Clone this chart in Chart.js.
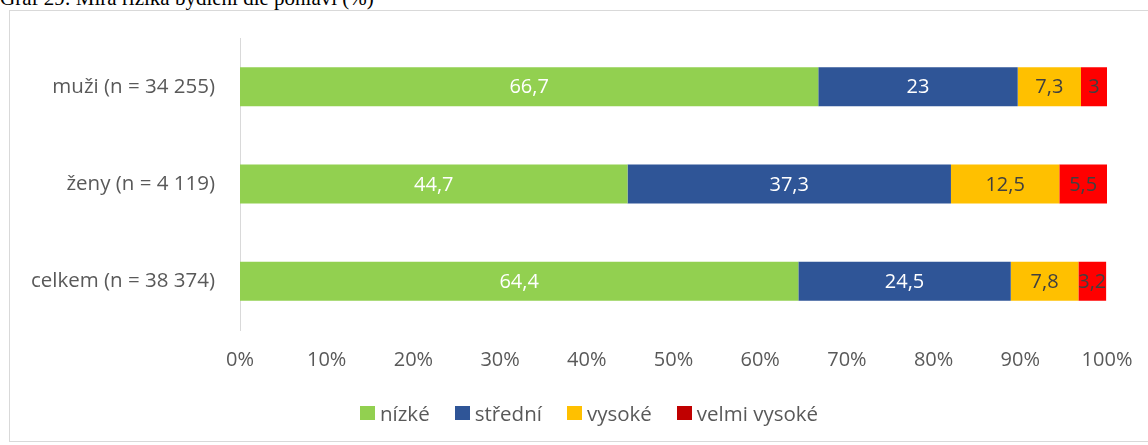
<!DOCTYPE html>
<html>
<head>
<meta charset="utf-8">
<script src="https://cdn.jsdelivr.net/npm/chart.js@4"></script>
<style>
  body { margin: 0; background: #fff; width: 1148px; height: 445px; overflow: hidden; position: relative; }
  .title { position: absolute; left: 0; top: -12px; font: 21px "Liberation Serif", serif; line-height: 21px; color: #000; white-space: nowrap; }
  .box { position: absolute; left: 9px; top: 10px; width: 1140px; height: 432px; border: 1px solid #d9d9d9; box-sizing: border-box; }
  canvas { position: absolute; left: 0; top: 0; }
  .legend { position: absolute; left: 360px; top: 401px; display: flex; align-items: center; font: 20.5px "Open Sans", sans-serif; color: #595959; line-height: 24px; white-space: nowrap; }
  .legend span.item { display: flex; align-items: center; margin-right: 25px; }
  .legend i { display: inline-block; width: 15px; height: 14px; margin-right: 5px; }
</style>
</head>
<body>
<div class="title">Graf 29: Míra rizika bydlení dle pohlaví (%)</div>
<div class="box"><canvas id="chart" width="1138" height="430"></canvas></div>
<div class="legend" id="legend"></div>
<script>
const categories = ['muži (n = 34 255)', 'ženy (n = 4 119)', 'celkem (n = 38 374)'];
const seriesNames = ['nízké', 'střední', 'vysoké', 'velmi vysoké'];
const nizke = [66.7, 44.7, 64.4];
const stredni = [23, 37.3, 24.5];
const vysoke = [7.3, 12.5, 7.8];
const velmiVysoke = [3, 5.5, 3.2];
const xTicks = [0, 10, 20, 30, 40, 50, 60, 70, 80, 90, 100];

const colors = ['#92D050', '#2F5597', '#FFC000', '#FF0000'];
const legendColors = ['#92D050', '#2F5597', '#FFC000', '#C00000'];
const labelColors = ['#ffffff', '#ffffff', '#404040', '#404040'];
const font = '"Open Sans", "Noto Sans", sans-serif';

// draws the value inside each segment
const barLabels = {
  id: 'barLabels',
  afterDatasetsDraw(chart) {
    const ctx = chart.ctx;
    ctx.save();
    ctx.font = '20px ' + font;
    ctx.textAlign = 'center';
    ctx.textBaseline = 'middle';
    chart.data.datasets.forEach((ds, i) => {
      chart.getDatasetMeta(i).data.forEach((bar, j) => {
        const p = bar.getProps(['x', 'base', 'y'], true);
        ctx.fillStyle = labelColors[i];
        ctx.fillText(String(ds.data[j]).replace('.', ','), (p.x + p.base) / 2, p.y + 1);
      });
    });
    ctx.restore();
  }
};

const chart = new Chart(document.getElementById('chart'), {
  type: 'bar',
  data: {
    labels: categories,
    datasets: [nizke, stredni, vysoke, velmiVysoke].map((d, i) => ({
      label: seriesNames[i],
      data: d,
      backgroundColor: colors[i],
      categoryPercentage: 1,
      barPercentage: 0.4
    }))
  },
  options: {
    indexAxis: 'y',
    responsive: false,
    animation: false,
    layout: { padding: { top: 27, right: 41, bottom: 0, left: 0 } },
    scales: {
      x: {
        stacked: true,
        min: 0,
        max: 100,
        grid: { display: false, drawTicks: false },
        border: { display: false },
        afterBuildTicks: s => { s.ticks = xTicks.map(v => ({ value: v })); },
        afterFit: s => { s.height = 111; s.paddingLeft = 0; s.paddingRight = 0; },
        ticks: { padding: 18, color: '#595959', font: { family: font, size: 20 }, callback: v => v + '%' }
      },
      y: {
        stacked: true,
        grid: { display: false, drawTicks: false },
        border: { display: true, color: '#d9d9d9', width: 1 },
        afterFit: s => { s.width = 230; s.paddingTop = 0; s.paddingBottom = 0; },
        ticks: { padding: 25, color: '#595959', font: { family: font, size: 20.5 } }
      }
    },
    plugins: {
      tooltip: { enabled: false },
      legend: { display: false }
    }
  },
  plugins: [barLabels]
});

// legend below the chart
const legend = document.getElementById('legend');
chart.data.datasets.forEach((ds, i) => {
  const item = document.createElement('span');
  item.className = 'item';
  item.innerHTML = `<i style="background:${legendColors[i]}"></i>${ds.label}`;
  legend.appendChild(item);
});
</script>
</body>
</html>
